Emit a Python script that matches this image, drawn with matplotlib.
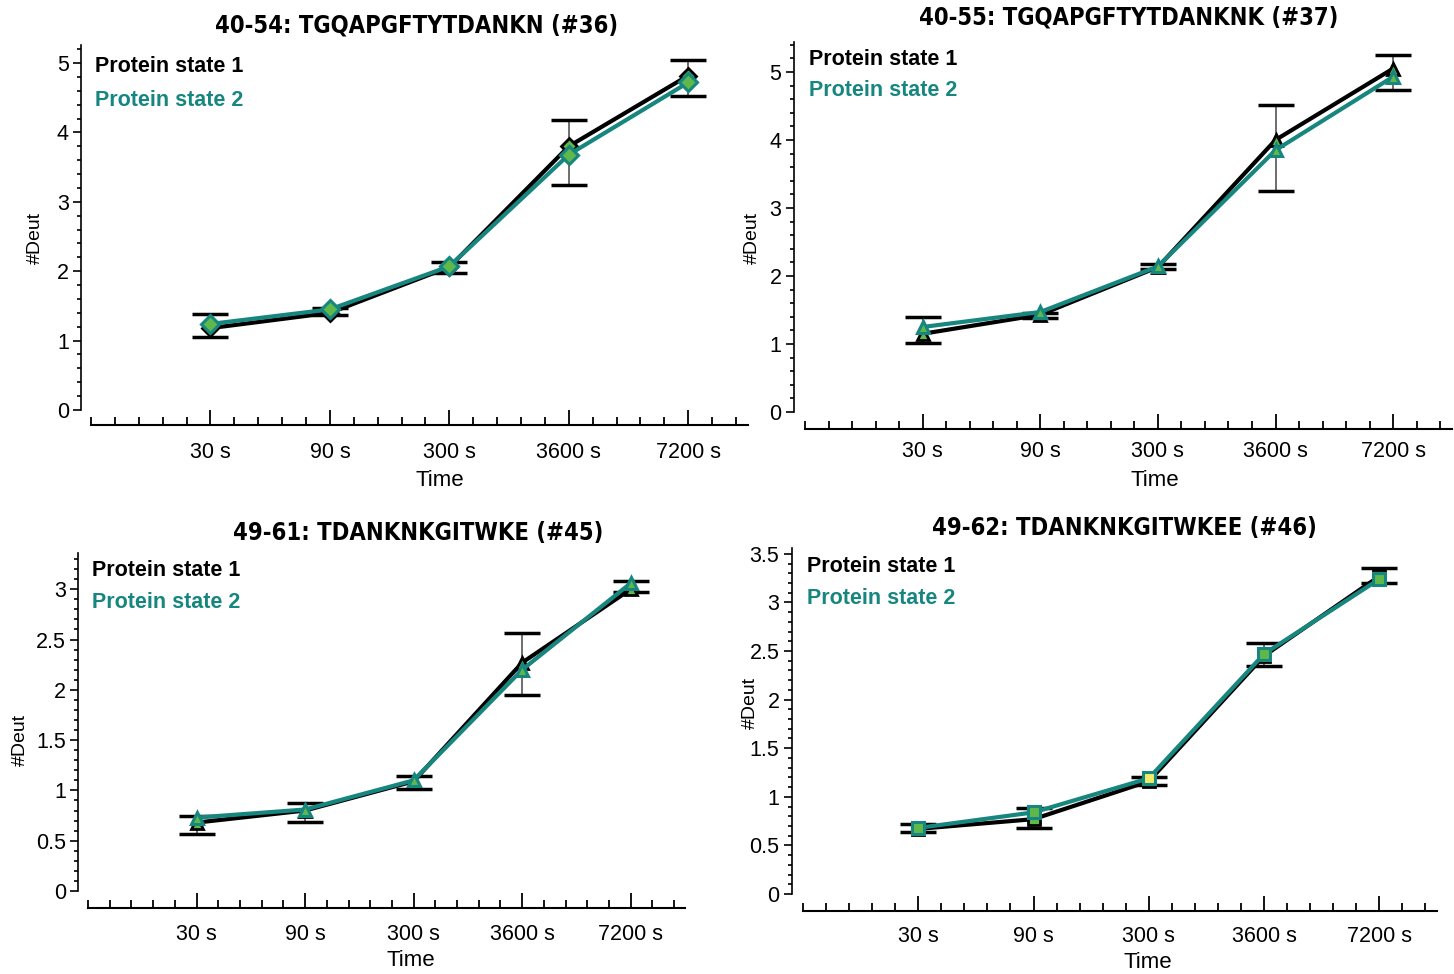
import matplotlib
matplotlib.use('Agg')
import matplotlib.pyplot as plt
from matplotlib.ticker import MultipleLocator

W, H = 1454, 974

times = ['30 s', '90 s', '300 s', '3600 s', '7200 s']

titles = ['40-54: TGQAPGFTYTDANKN (#36)', '40-55: TGQAPGFTYTDANKNK (#37)',
          '49-61: TDANKNKGITWKE (#45)', '49-62: TDANKNKGITWKEE (#46)']

# deuterium uptake, state 1 / state 2, and error bar range of state 1
state1 = [
    [1.18, 1.40, 2.06, 3.80, 4.82],
    [1.15, 1.43, 2.13, 4.00, 5.05],
    [0.68, 0.80, 1.09, 2.27, 3.00],
    [0.67, 0.77, 1.16, 2.45, 3.27],
]
state2 = [
    [1.24, 1.45, 2.07, 3.68, 4.72],
    [1.25, 1.47, 2.14, 3.85, 4.93],
    [0.73, 0.81, 1.10, 2.20, 3.06],
    [0.68, 0.84, 1.19, 2.47, 3.24],
]
err_lo = [
    [1.05, 1.37, 1.97, 3.24, 4.52],
    [1.02, 1.38, 2.10, 3.25, 4.73],
    [0.57, 0.69, 1.01, 1.95, 2.97],
    [0.64, 0.68, 1.12, 2.35, 3.20],
]
err_hi = [
    [1.38, 1.47, 2.13, 4.18, 5.04],
    [1.40, 1.45, 2.17, 4.52, 5.25],
    [0.75, 0.87, 1.14, 2.56, 3.08],
    [0.72, 0.88, 1.20, 2.58, 3.35],
]

markers = ['D', '^', '^', 's']
ymax = [5.26, 5.44, 3.36, 3.56]
ymajor = [1, 1, 0.5, 0.5]
yminor = [0.2, 0.2, 0.1, 0.1]

# axes boxes in pixels: left, right, top, bottom (y = 0 line)
boxes = [(91, 748, 45, 410), (805, 1452, 42, 412),
         (88, 685, 553, 891), (803, 1437, 548, 894)]
offsets = [(7, 11), (8, 12), (7, 12), (8, 12)]
xpads = [12, 9, 12, 11]
legend_off = [(-21, -55), (-18, -49), (-18, -49), (-19, -51)]
title_pos = [(417, 25), (1129, 18), (418, 533), (1124, 528)]
time_pos = [(440, 480), (1155, 480), (411, 961), (1148, 963)]
ylab_pos = [(35, 238), (752, 238), (20, 740), (750, 703)]
yellow = [[], [], [], [2]]

teal = '#17867f'
green = '#5fb84a'

plt.rcParams['font.family'] = ['Liberation Sans', 'DejaVu Sans']

fig = plt.figure(figsize=(W / 100, H / 100), dpi=100)

for i in range(4):
    l, r, t, b = boxes[i]
    ax = fig.add_axes([l / W, 1 - b / H, (r - l) / W, (b - t) / H])
    x = list(range(1, 6))
    yerr = [[state1[i][k] - err_lo[i][k] for k in range(5)],
            [err_hi[i][k] - state1[i][k] for k in range(5)]]
    ax.errorbar(x, state1[i], yerr=yerr, fmt='none', ecolor='#555555',
                elinewidth=1.2, capsize=0, zorder=2)
    # caps in black
    ax.plot(x, err_lo[i], ls='none', marker='_', ms=26, mew=2.5, color='black', zorder=3)
    ax.plot(x, err_hi[i], ls='none', marker='_', ms=26, mew=2.5, color='black', zorder=3)
    ax.plot(x, state1[i], color='black', lw=3, marker=markers[i], ms=8,
            mfc=green, mec='black', mew=2, zorder=4)
    ax.plot(x, state2[i], color=teal, lw=3, zorder=5)
    for k in range(5):
        fc = '#f2ea6a' if k in yellow[i] else green
        ax.plot([x[k]], [state2[i][k]], marker=markers[i], ms=9,
                mfc=fc, mec=teal, mew=2.2, zorder=6)

    ax.set_xlim(0, 5.5)
    ax.set_ylim(0, ymax[i])
    ax.tick_params(axis='x', which='major', direction='in', length=11, width=1.3,
                   pad=xpads[i], labelsize=15.5)
    ax.tick_params(axis='x', which='minor', direction='in', length=6, width=1.3)
    ax.tick_params(axis='y', which='major', length=6, width=1.2, pad=3, labelsize=15.5)
    ax.tick_params(axis='y', which='minor', length=3, width=1.2)
    ax.set_xticks(x)
    ax.set_xticklabels(times)
    ax.xaxis.set_minor_locator(MultipleLocator(0.2))
    nt = int(ymax[i] / ymajor[i]) + 1
    ax.set_yticks([v * ymajor[i] for v in range(nt)])
    ax.set_yticklabels(['%g' % (v * ymajor[i]) for v in range(nt)])
    ax.yaxis.set_minor_locator(MultipleLocator(yminor[i]))
    for s in ['top', 'right']:
        ax.spines[s].set_visible(False)
    ax.spines['left'].set_position(('outward', offsets[i][0]))
    ax.spines['bottom'].set_position(('outward', offsets[i][1]))
    ax.spines['left'].set_linewidth(1.2)
    ax.spines['bottom'].set_linewidth(1.5)
    ax.patch.set_alpha(0)

    o1, o2 = legend_off[i]
    ax.annotate('Protein state 1', xy=(0, 1), xycoords='axes fraction',
                xytext=(4, o1), textcoords='offset pixels', fontsize=15.5,
                fontweight='bold', color='black', va='center')
    ax.annotate('Protein state 2', xy=(0, 1), xycoords='axes fraction',
                xytext=(4, o2), textcoords='offset pixels', fontsize=15.5,
                fontweight='bold', color=teal, va='center')

    tx, ty = title_pos[i]
    fig.text(tx / W, 1 - ty / H, titles[i], ha='center', va='center', fontsize=17,
             fontweight='bold', fontstretch='condensed', family='DejaVu Sans')
    tx, ty = time_pos[i]
    fig.text(tx / W, 1 - ty / H, 'Time', ha='center', va='center', fontsize=16)
    tx, ty = ylab_pos[i]
    fig.text(tx / W, 1 - ty / H, '#Deut', ha='center', va='center', fontsize=14,
             rotation=90)

fig.savefig('out.png', dpi=100)
